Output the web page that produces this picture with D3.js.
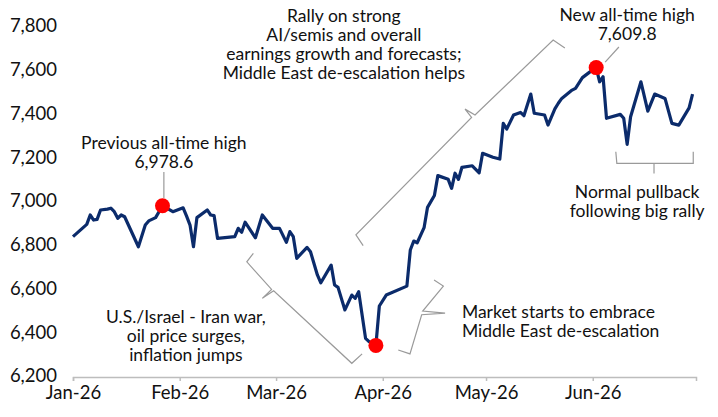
<!DOCTYPE html>
<html>
<head>
<meta charset="utf-8">
<script src="https://cdn.jsdelivr.net/npm/d3@7"></script>
<style>
  body { margin: 0; background: #fff; }
  svg text { font-family: "Lato", "Open Sans", sans-serif; fill: #111; }
</style>
</head>
<body>
<svg id="chart" width="718" height="417"></svg>
<script>
// ---------- DATA ----------
const dates = [
  "2026-01-01","2026-01-05","2026-01-06","2026-01-07","2026-01-08","2026-01-09","2026-01-11","2026-01-12",
  "2026-01-13","2026-01-14","2026-01-15","2026-01-16","2026-01-20","2026-01-22","2026-01-23","2026-01-25",
  "2026-01-27","2026-01-30","2026-02-02","2026-02-03","2026-02-04","2026-02-05","2026-02-06","2026-02-09",
  "2026-02-10","2026-02-11","2026-02-12","2026-02-17","2026-02-18","2026-02-19","2026-02-20","2026-02-23",
  "2026-02-25","2026-02-28","2026-03-02","2026-03-04","2026-03-05","2026-03-06","2026-03-07","2026-03-10",
  "2026-03-11","2026-03-13","2026-03-14","2026-03-17","2026-03-18","2026-03-19","2026-03-21","2026-03-23",
  "2026-03-24","2026-03-25","2026-03-27","2026-03-28","2026-03-30","2026-03-31","2026-04-02","2026-04-08",
  "2026-04-09","2026-04-10","2026-04-11","2026-04-13","2026-04-14","2026-04-16","2026-04-17","2026-04-20",
  "2026-04-21","2026-04-22","2026-04-23","2026-04-24","2026-04-27","2026-04-29","2026-04-30","2026-05-03",
  "2026-05-05","2026-05-06","2026-05-07","2026-05-09","2026-05-11","2026-05-12","2026-05-14","2026-05-15",
  "2026-05-18","2026-05-19","2026-05-21","2026-05-22","2026-05-23","2026-05-26","2026-05-27","2026-05-29",
  "2026-05-31","2026-06-02","2026-06-03","2026-06-04","2026-06-05","2026-06-09","2026-06-10","2026-06-11",
  "2026-06-12","2026-06-15","2026-06-17","2026-06-19","2026-06-22","2026-06-24","2026-06-26","2026-06-29",
  "2026-06-30"
];
const values = [
  6837,6893,6936,6913,6916,6959,6963,6967,
  6951,6921,6936,6928,6791,6890,6909,6924,
  6978.6,6951,6969,6931,6890,6791,6924,6959,
  6936,6933,6829,6837,6875,6857,6903,6832,
  6936,6875,6875,6811,6860,6837,6738,6788,
  6768,6662,6626,6707,6616,6605,6502,6570,
  6555,6585,6372,6357,6340,6520,6570,6611,
  6776,6817,6809,6878,6971,7025,7116,7099,
  7058,7127,7099,7154,7161,7129,7218,7200,
  7192,7355,7329,7393,7405,7390,7489,7401,
  7393,7347,7421,7447,7469,7507,7515,7564,
  7588,7609.8,7545,7568,7378,7396,7378,7259,
  7385,7545,7411,7489,7469,7355,7347,7426,
  7489
];
const highlightDates = ["2026-01-27", "2026-03-30", "2026-06-02"];
const yTicks = [6200, 6400, 6600, 6800, 7000, 7200, 7400, 7600, 7800];
const xTickDates = ["2026-01-01","2026-02-01","2026-03-01","2026-04-01","2026-05-01","2026-06-01"];
const xDomain = ["2026-01-01", "2026-07-01"];

// annotation texts
const rallyText = ["Rally on strong", "AI/semis and overall", "earnings growth and forecasts;", "Middle East de-escalation helps"];
const newHighText = ["New all-time high", "7,609.8"];
const prevHighText = ["Previous all-time high", "6,978.6"];
const pullbackText = ["Normal pullback", "following big rally"];
const warText = ["U.S./Israel - Iran war,", "oil price surges,", "inflation jumps"];
const marketText = ["Market starts to embrace", "Middle East de-escalation"];

// ---------- CHART ----------
const parse = d3.timeParse("%Y-%m-%d");
const data = dates.map((d, i) => ({ date: parse(d), value: values[i] }));
const svg = d3.select("#chart");

const x = d3.scaleTime().domain(xDomain.map(parse)).range([73, 696]);
const y = d3.scaleLinear().domain([6200, 7800]).range([376, 26]);
const t0 = parse(xDomain[0]);
const dayX = n => x(new Date(t0.getTime() + n * 864e5));
const P = (n, v) => [dayX(n), y(v)];

// y axis
const yAxis = svg.append("g").attr("transform", "translate(73,0)")
  .call(d3.axisLeft(y).tickValues(yTicks).tickFormat(d3.format(",")).tickSize(0).tickPadding(16));
yAxis.select(".domain").remove();
yAxis.selectAll("text").style("font-size", "18.5px");

// x axis
const xAxis = svg.append("g").attr("transform", "translate(0,377)")
  .call(d3.axisBottom(x).tickValues(xTickDates.map(parse)).tickFormat(d3.timeFormat("%b-%y"))
    .tickSize(4).tickSizeOuter(4).tickPadding(5));
xAxis.select(".domain").attr("stroke", "#bdbdbd").attr("stroke-width", 1.5);
xAxis.selectAll(".tick line").attr("stroke", "#bdbdbd").attr("stroke-width", 1.5);
xAxis.selectAll("text").style("font-size", "18.5px");

// grey annotation lines
const gray = "#9a9a9a";
const poly = pts => svg.append("path").attr("d", d3.line()(pts))
  .attr("fill", "none").attr("stroke", gray).attr("stroke-width", 1.2);

// brackets (points in [day, value])
poly([P(52.4, 6761), P(50.5, 6722), P(57.7, 6596), P(55.0, 6555), P(58.3, 6590), P(81.0, 6258), P(84.0, 6301)]);
poly([P(84.3, 6796), P(82.2, 6845), P(115.8, 7382), P(113.9, 7420), P(116.8, 7393), P(139.5, 7736), P(142.9, 7699)]);
poly([P(104.9, 6639), P(107.6, 6611), P(101.6, 6497), P(108.1, 6487), P(101.3, 6480), P(97.9, 6301), P(94.5, 6319)]);
poly([P(157.7, 7225), P(158, 7172), P(168.8, 7172), P(168.8, 7126), P(168.8, 7172), P(180.2, 7172), P(180.2, 7225)]);
// leaders
poly([P(26.4, 7133), P(26.4, 7014)]);
poly([P(154.6, 7635), P(158.6, 7704)]);

// line
svg.append("path").datum(data)
  .attr("fill", "none").attr("stroke", "#0b2b6b").attr("stroke-width", 3.2)
  .attr("stroke-linejoin", "round")
  .attr("d", d3.line().x(d => x(d.date)).y(d => y(d.value)));

// red dots
svg.selectAll("circle.hl").data(data.filter(d => highlightDates.includes(d3.timeFormat("%Y-%m-%d")(d.date))))
  .join("circle").attr("class", "hl")
  .attr("cx", d => x(d.date)).attr("cy", d => y(d.value)).attr("r", 7.5).attr("fill", "#ff0000");

// text blocks
function block(lines, n, v, anchor, lh) {
  const [px, py] = P(n, v);
  const t = svg.append("text").attr("text-anchor", anchor).style("font-size", "17.5px");
  lines.forEach((l, i) => t.append("tspan").attr("x", px).attr("y", py + i * lh).attr("dy", "0.35em").text(l));
}
block(rallyText, 78.7, 7846, "middle", 19);
block(newHighText, 161, 7852, "middle", 19);
block(prevHighText, 26.4, 7267, "middle", 19);
block(pullbackText, 163.9, 7043, "middle", 19);
block(warText, 32.8, 6470, "middle", 19);
block(marketText, 113, 6495, "start", 19);
</script>
</body>
</html>
